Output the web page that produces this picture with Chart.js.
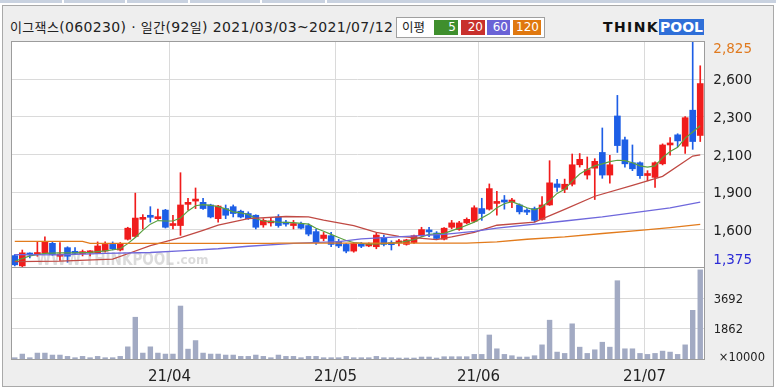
<!DOCTYPE html>
<html>
<head>
<meta charset="utf-8">
<script src="https://cdn.jsdelivr.net/npm/chart.js@4.4.1/dist/chart.umd.min.js"></script>
<style>
  body { margin: 0; background: #fff; }
  #wrap { position: relative; width: 776px; height: 389px; overflow: hidden; background: #fff; font-family: "DejaVu Sans", sans-serif; }
  #tabs { position: absolute; left: 0; top: 0; width: 776px; height: 3px; background: #c9d2e0; }
  #tabs i { position: absolute; top: 0; width: 2px; height: 3px; background: #fff; }
  #panel { position: absolute; left: 2px; top: 5px; width: 770px; height: 380px; border: 1px solid #a9a9a9; background: #eeeeee; }
  #title { position: absolute; left: 10px; top: 19px; font-size: 14px; line-height: 16px; color: #222; white-space: nowrap; letter-spacing: 0.35px; }
  #title .ko { font-family: "Noto Sans CJK KR", sans-serif; font-size: 13px; }
  #maBox { position: absolute; left: 396px; top: 17px; width: 147px; height: 19px; border: 1px solid #a0a0a0; background: #fff; }
  #maBox .lbl { position: absolute; left: 5px; top: 1px; font-family: "Noto Sans CJK KR", sans-serif; font-size: 12.5px; line-height: 16px; color: #222; }
  #maBox .sw { position: absolute; top: 2px; height: 15px; color: #fff; font-size: 12px; line-height: 15px; text-align: right; padding-right: 2px; box-sizing: border-box; }
  #logo { position: absolute; left: 603px; top: 19px; height: 17px; white-space: nowrap; font-weight: bold; font-size: 14px; line-height: 17px; }
  #logo .think { color: #111; letter-spacing: 1.4px; }
  #logo .pool { background: #2f6fd8; color: #fff; padding: 0 1px; }
  canvas { position: absolute; left: 0; }
</style>
</head>
<body>
<div id="wrap">
  <div id="tabs"><i style="left:62px"></i><i style="left:125px"></i><i style="left:188px"></i><i style="left:260px"></i><i style="left:325px"></i></div>
  <div id="panel"></div>
  <div id="title"><span class="ko">이그잭스</span>(060230) · <span class="ko">일간</span>(92<span class="ko">일</span>) 2021/03/03~2021/07/12</div>
  <div id="maBox">
    <span class="lbl">이평</span>
    <span class="sw" style="left:37px;width:24px;background:#3f8f2d">5</span>
    <span class="sw" style="left:64px;width:24px;background:#c8302c">20</span>
    <span class="sw" style="left:90px;width:23px;background:#6a62d6">60</span>
    <span class="sw" style="left:116px;width:28px;background:#e0780f">120</span>
  </div>
  <div id="logo"><span class="think">THINK</span><span class="pool">POOL</span></div>
  <canvas id="priceCanvas" width="776" height="268" style="top:0"></canvas>
  <canvas id="volumeCanvas" width="776" height="122" style="top:267px"></canvas>
</div>
<script>
// 1. Trading days shown (2021/03/03 ~ 2021/07/12, 92 sessions)
const marDays = [3,4,5,8,9,10,11,12,15,16,17,18,19,22,23,24,25,26,29,30,31];
const aprDays = [1,2,5,6,7,8,9,12,13,14,15,16,19,20,21,22,23,26,27,28,29,30];
const mayDays = [3,4,6,7,10,11,12,13,14,17,18,20,21,24,25,26,27,28,31];
const junDays = [1,2,3,4,7,8,9,10,11,14,15,16,17,18,21,22,23,24,25,28,29,30];
const julDays = [1,2,5,6,7,8,9,12];

// 2. Daily prices
const opens = [1448,1382,1458,1455,1466,1527,1444,1499,1468,1461,
  1466,1466,1477,1520,1484,1553,1571,1681,1698,1685,
  1740,1641,1641,1777,1798,1790,1773,1685,1750,1762,
  1733,1718,1707,1645,1658,1696,1656,1641,1652,1641,
  1602,1558,1576,1538,1520,1477,1512,1510,1505,1564,
  1522,1530,1520,1532,1576,1604,1593,1553,1630,1615,
  1658,1668,1750,1746,1783,1796,1792,1773,1731,1750,
  1680,1773,1908,1873,1906,2031,1965,2009,2110,1965,
  2344,2191,2044,2044,1962,1950,2037,2158,2223,2150,
  2381,2219];
const highs = [1455,1484,1466,1536,1569,1536,1532,1505,1499,1484,
  1480,1536,1536,1536,1532,1630,1849,1711,1762,1746,
  1745,1707,1980,1816,1882,1816,1778,1770,1773,1773,
  1740,1729,1710,1685,1689,1711,1674,1674,1663,1652,
  1619,1597,1597,1553,1525,1530,1532,1530,1591,1580,
  1543,1553,1553,1580,1630,1630,1602,1628,1674,1668,
  1690,1768,1816,1908,1860,1834,1816,1780,1750,1760,
  1827,2057,1937,1939,2100,2103,2081,2070,2267,2092,
  2476,2208,2158,2050,1993,2050,2165,2206,2230,2340,
  2825,2666];
const lows = [1382,1375,1433,1444,1460,1450,1418,1405,1455,1446,
  1446,1462,1470,1485,1478,1548,1565,1619,1663,1680,
  1625,1619,1578,1740,1750,1745,1690,1663,1685,1696,
  1690,1680,1619,1630,1637,1630,1637,1619,1620,1575,
  1520,1543,1505,1499,1466,1470,1499,1505,1492,1510,
  1484,1510,1515,1527,1570,1570,1550,1548,1620,1610,
  1652,1663,1674,1740,1707,1746,1755,1715,1711,1663,
  1675,1770,1860,1852,1895,2016,1939,1808,1944,1913,
  2110,2016,1993,1944,1928,1886,2030,2092,2147,2103,
  2130,2180];
const closes = [1389,1466,1452,1466,1536,1455,1455,1444,1463,1470,
  1469,1510,1520,1492,1527,1624,1689,1689,1694,1696,
  1630,1652,1773,1790,1810,1750,1696,1766,1707,1718,
  1696,1685,1630,1674,1668,1641,1650,1652,1624,1586,
  1536,1580,1520,1510,1477,1525,1508,1520,1580,1520,
  1518,1534,1549,1576,1615,1600,1558,1624,1658,1658,
  1681,1755,1718,1878,1794,1792,1796,1729,1727,1674,
  1773,1915,1886,1906,2031,2066,2000,2053,1965,2031,
  2154,2037,2005,1961,1968,2044,2158,2169,2184,2333,
  2180,2552];

// 3. Volume (x10000 shares)
const volumes = [99,317,99,376,376,257,257,178,99,178,
  99,178,99,99,178,752,2534,376,752,376,
  317,317,3208,614,1129,376,317,317,257,257,
  178,178,257,178,99,257,178,178,99,178,
  178,99,99,99,178,99,99,99,178,99,
  99,79,79,79,139,139,79,158,158,158,
  158,297,297,1465,634,297,218,139,139,218,
  871,2356,436,356,2138,733,356,574,1030,733,
  4732,634,634,356,297,356,495,436,297,871,
  2950,5386];

// 4. Moving averages as [session index, value]
const ma5Points = [[0,1412],[2,1446],[4,1463],[6,1466],[8,1466],[10,1469],[12,1479],[14,1492],[15,1525],[16,1564],
  [17,1610],[18,1650],[19,1673],[20,1670],[21,1670],[22,1689],[23,1735],[24,1768],[25,1775],[26,1771],
  [27,1762],[28,1748],[29,1729],[30,1722],[31,1712],[32,1686],[33,1670],[35,1663],[37,1660],[39,1650],
  [40,1624],[41,1604],[42,1584],[43,1564],[44,1545],[45,1532],[47,1522],[49,1525],[51,1532],[53,1551],
  [54,1568],[55,1584],[57,1591],[59,1624],[61,1663],[63,1716],[64,1755],[65,1781],[66,1794],[67,1775],
  [68,1755],[69,1742],[70,1762],[71,1801],[72,1847],[73,1873],[74,1926],[75,1972],[76,2001],[77,2024],
  [78,2037],[79,2051],[80,2060],[81,2057],[82,2044],[83,2024],[84,2016],[85,2024],[86,2077],[87,2116],
  [88,2143],[89,2202],[90,2241],[91,2281]];
const ma20Points = [[0,1410],[6,1413],[13,1425],[15,1460],[18,1512],[22,1564],[25,1610],[27,1643],[31,1685],
  [36,1699],[39,1696],[41,1676],[45,1641],[48,1597],[51,1571],[56,1551],[58,1568],[61,1597],[64,1643],
  [69,1663],[73,1745],[77,1829],[82,1899],[86,1957],[90,2087],[91,2095]];
const ma60Points = [[0,1455],[6,1453],[12,1462],[18,1468],[22,1478],[27,1492],[31,1508],[37,1527],[43,1538],
  [46,1555],[52,1571],[57,1584],[61,1604],[64,1624],[73,1670],[78,1696],[83,1729],[87,1755],[91,1791]];
const ma120Points = [[0,1539],[9,1539],[10,1526],[34,1526],[35,1528],[60,1528],[64,1536],[68,1553],
  [73,1568],[78,1590],[83,1610],[87,1627],[91,1648]];

// 5. Axis ticks
const priceTicks = [1617, 1858, 2100, 2342, 2583];
const priceTickLabels = ['1,600', '1,900', '2,100', '2,300', '2,600'];
const volumeTicks = [1862, 3692];
const volumeTickLabels = ['1862', '3692'];
const volumeMax = 5538;

// colors
const upColor = '#f01c1c';
const downColor = '#1d5ee6';
const gridColor = '#dadada';
const frameColor = '#9c9c9c';

const pad = n => String(n).padStart(2, '0');
const labels = [
  ...marDays.map(d => '2021/03/' + pad(d)),
  ...aprDays.map(d => '2021/04/' + pad(d)),
  ...mayDays.map(d => '2021/05/' + pad(d)),
  ...junDays.map(d => '2021/06/' + pad(d)),
  ...julDays.map(d => '2021/07/' + pad(d))
];

// first session of each new month -> vertical grid + label "21/04"
const monthStarts = [];
labels.forEach((l, i) => {
  if (i > 0 && l.slice(5, 7) !== labels[i - 1].slice(5, 7)) monthStarts.push(i);
});
const monthLabels = monthStarts.map(i => labels[i].slice(2, 4) + '/' + labels[i].slice(5, 7));

const priceLow = Math.min(...lows);
const priceHigh = Math.max(...highs);
const candleColors = closes.map((c, i) => c >= opens[i] ? upColor : downColor);
const toPoints = pts => pts.map(([i, v]) => ({ x: labels[i], y: v }));

function vLine(ctx, x, y1, y2) { ctx.beginPath(); ctx.moveTo(x, y1); ctx.lineTo(x, y2); ctx.stroke(); }
function hLine(ctx, y, x1, x2) { ctx.beginPath(); ctx.moveTo(x1, y); ctx.lineTo(x2, y); ctx.stroke(); }

function monthGridX(scale, i) {
  const step = scale.width / labels.length;
  return Math.round(scale.getPixelForValue(i) - step / 2) + 0.5;
}

function paneBackground(chart, hTicks, yScale) {
  const { ctx, chartArea: a, scales: { x } } = chart;
  ctx.save();
  ctx.fillStyle = '#fff';
  ctx.fillRect(a.left, a.top, a.width, a.height);
  ctx.strokeStyle = gridColor;
  ctx.lineWidth = 1;
  hTicks.forEach(v => hLine(ctx, Math.round(yScale.getPixelForValue(v)) + 0.5, a.left, a.right));
  monthStarts.forEach(i => vLine(ctx, monthGridX(x, i), a.top, a.bottom));
  ctx.restore();
}

function paneFrame(chart) {
  const { ctx, chartArea: a } = chart;
  ctx.save();
  ctx.strokeStyle = frameColor;
  ctx.lineWidth = 1;
  ctx.strokeRect(a.left + 0.5, a.top + 0.5, a.width, a.height);
  ctx.restore();
}

// 6. Price pane plugin: grid, watermark, frame, right labels
const pricePane = {
  id: 'pricePane',
  beforeDatasetsDraw(chart) {
    const { ctx, chartArea: a, scales: { y } } = chart;
    paneBackground(chart, priceTicks, y);
    // faint watermark
    ctx.save();
    ctx.fillStyle = 'rgba(175,175,175,0.45)';
    ctx.font = 'bold 18px "DejaVu Sans"';
    ctx.textBaseline = 'alphabetic';
    const w = ctx.measureText('WWW.THINKPOOL').width;
    ctx.translate(36, a.bottom - 2);
    ctx.scale(138 / w, 1);
    ctx.fillText('WWW.THINKPOOL', 0, 0);
    ctx.restore();
    ctx.save();
    ctx.fillStyle = 'rgba(175,175,175,0.45)';
    ctx.font = 'bold 12px "DejaVu Sans"';
    ctx.fillText('.com', 176, a.bottom - 3);
    ctx.restore();
  },
  afterDraw(chart) {
    const { ctx, chartArea: a, scales: { y } } = chart;
    paneFrame(chart);
    ctx.save();
    ctx.font = '13.5px "DejaVu Sans"';
    ctx.textAlign = 'right';
    ctx.textBaseline = 'middle';
    ctx.fillStyle = '#222';
    priceTicks.forEach((v, k) => ctx.fillText(priceTickLabels[k], 752, y.getPixelForValue(v) + 2));
    ctx.fillStyle = '#e07a1f';
    ctx.fillText(priceHigh.toLocaleString('en-US'), 752, a.top + 8);
    ctx.fillStyle = '#2b2bd6';
    ctx.fillText(priceLow.toLocaleString('en-US'), 752, a.bottom - 7);
    ctx.restore();
  }
};

// 7. Volume pane plugin: grid, frame, labels, month labels
const volumePane = {
  id: 'volumePane',
  beforeDatasetsDraw(chart) {
    paneBackground(chart, volumeTicks, chart.scales.y);
  },
  afterDraw(chart) {
    const { ctx, chartArea: a, scales: { x, y } } = chart;
    paneFrame(chart);
    ctx.save();
    ctx.fillStyle = '#222';
    ctx.textBaseline = 'middle';
    ctx.textAlign = 'right';
    ctx.font = '11.5px "DejaVu Sans"';
    volumeTicks.forEach((v, k) => ctx.fillText(volumeTickLabels[k], 743, y.getPixelForValue(v) + 2));
    ctx.fillText('×10000', 765, a.bottom - 1);
    ctx.textAlign = 'center';
    ctx.font = '15px "DejaVu Sans"';
    monthStarts.forEach((i, k) => ctx.fillText(monthLabels[k], monthGridX(x, i), a.bottom + 18));
    ctx.restore();
  }
};

// 8. Charts
new Chart(document.getElementById('priceCanvas'), {
  data: {
    labels: labels,
    datasets: [
      { type: 'line', label: '120', data: toPoints(ma120Points), borderColor: '#e27b1c', borderWidth: 1.3, pointRadius: 0, tension: 0, order: 1 },
      { type: 'line', label: '60', data: toPoints(ma60Points), borderColor: '#6f68dc', borderWidth: 1.3, pointRadius: 0, tension: 0, order: 2 },
      { type: 'line', label: '20', data: toPoints(ma20Points), borderColor: '#c04a44', borderWidth: 1.3, pointRadius: 0, tension: 0, order: 3 },
      { type: 'line', label: '5', data: toPoints(ma5Points), borderColor: '#5aa040', borderWidth: 1.2, pointRadius: 0, tension: 0, order: 4 },
      { type: 'bar', label: 'wick', data: lows.map((l, i) => [l, highs[i]]), backgroundColor: candleColors, barThickness: 1, grouped: false, order: 9 },
      { type: 'bar', label: 'body', data: opens.map((o, i) => [o, closes[i]]), backgroundColor: candleColors, barThickness: 6, minBarLength: 2, grouped: false, order: 8 }
    ]
  },
  options: {
    responsive: false,
    animation: false,
    layout: { padding: { left: 11, top: 41, right: 72, bottom: 1 } },
    plugins: { legend: { display: false }, tooltip: { enabled: false } },
    scales: {
      x: { type: 'category', offset: true, display: false },
      y: { type: 'linear', min: priceLow, max: priceHigh, display: false }
    }
  },
  plugins: [pricePane]
});

new Chart(document.getElementById('volumeCanvas'), {
  type: 'bar',
  data: {
    labels: labels,
    datasets: [{ data: volumes, backgroundColor: '#a2aac3', barPercentage: 0.72, categoryPercentage: 1 }]
  },
  options: {
    responsive: false,
    animation: false,
    layout: { padding: { left: 11, top: 0, right: 72, bottom: 30 } },
    plugins: { legend: { display: false }, tooltip: { enabled: false } },
    scales: {
      x: { type: 'category', offset: true, display: false },
      y: { type: 'linear', min: 0, max: volumeMax, display: false }
    }
  },
  plugins: [volumePane]
});
</script>
</body>
</html>
